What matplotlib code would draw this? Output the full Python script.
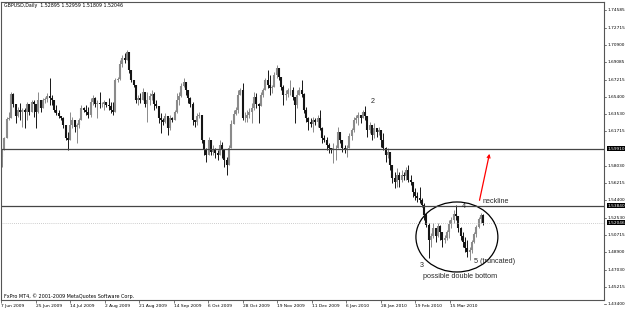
import numpy as np
import matplotlib.pyplot as plt
from matplotlib.patches import Ellipse

# GBPUSD daily bars, Jun 2009 - Mar 2010
highs = [1.5975, 1.6113, 1.6325, 1.6378, 1.6590, 1.6579, 1.6452, 1.6431, 1.6473, 1.6420,
         1.6420, 1.6484, 1.6452, 1.6505, 1.6505, 1.6452, 1.6590, 1.6473, 1.6526, 1.6537,
         1.6579, 1.6738, 1.6558, 1.6484, 1.6452, 1.6399, 1.6335, 1.6325, 1.6240, 1.6166,
         1.6378, 1.6325, 1.6240, 1.6261, 1.6314, 1.6452, 1.6431, 1.6452, 1.6431, 1.6526,
         1.6558, 1.6537, 1.6505, 1.6590, 1.6484, 1.6505, 1.6484, 1.6526, 1.6484, 1.6484,
         1.6738, 1.6749, 1.6929, 1.6982, 1.7003, 1.7035, 1.6982, 1.6823, 1.6696, 1.6664,
         1.6558, 1.6579, 1.6632, 1.6579, 1.6590, 1.6579, 1.6611, 1.6590, 1.6505, 1.6431,
         1.6367, 1.6314, 1.6367, 1.6293, 1.6346, 1.6325, 1.6399, 1.6579, 1.6590, 1.6685,
         1.6738, 1.6664, 1.6590, 1.6537, 1.6484, 1.6293, 1.6367, 1.6378, 1.6346, 1.6081,
         1.5996, 1.6113, 1.5996, 1.6028, 1.5996, 1.5975, 1.6081, 1.6060, 1.5943, 1.5901,
         1.6028, 1.6293, 1.6399, 1.6431, 1.6611, 1.6632, 1.6685, 1.6378, 1.6399, 1.6420,
         1.6473, 1.6590, 1.6579, 1.6473, 1.6590, 1.6632, 1.6738, 1.6823, 1.6770, 1.6664,
         1.6802, 1.6876, 1.6823, 1.6749, 1.6664, 1.6611, 1.6632, 1.6717, 1.6643, 1.6526,
         1.6611, 1.6643, 1.6717, 1.6579, 1.6431, 1.6325, 1.6314, 1.6325, 1.6314, 1.6346,
         1.6399, 1.6219, 1.6134, 1.6113, 1.6049, 1.5996, 1.6049, 1.6028, 1.6219, 1.6166,
         1.6081, 1.6028, 1.6028, 1.6155, 1.6208, 1.6325, 1.6346, 1.6378, 1.6346, 1.6399,
         1.6441, 1.6293, 1.6272, 1.6240, 1.6261, 1.6208, 1.6219, 1.6166, 1.6155, 1.6007,
         1.5996, 1.5922, 1.5795, 1.5742, 1.5784, 1.5742, 1.5763, 1.5742, 1.5795, 1.5816,
         1.5710, 1.5636, 1.5572, 1.5530, 1.5583, 1.5467, 1.5413, 1.5307, 1.5201, 1.5095,
         1.5201, 1.5148, 1.5201, 1.5180, 1.5106, 1.5074, 1.5127, 1.5233, 1.5265, 1.5339,
         1.5392, 1.5254, 1.5159, 1.5106, 1.5053, 1.5021, 1.4947, 1.5021, 1.5106, 1.5180,
         1.5265, 1.5307, 1.52959]

lows = [1.5795, 1.5975, 1.6219, 1.6293, 1.6431, 1.6431, 1.6261, 1.6325, 1.6293, 1.6219,
        1.6208, 1.6293, 1.6346, 1.6431, 1.6325, 1.6208, 1.6367, 1.6378, 1.6431, 1.6473,
        1.6484, 1.6452, 1.6452, 1.6378, 1.6346, 1.6314, 1.6293, 1.6208, 1.6081, 1.5975,
        1.6081, 1.6208, 1.6166, 1.6049, 1.6208, 1.6325, 1.6378, 1.6346, 1.6314, 1.6325,
        1.6452, 1.6431, 1.6314, 1.6420, 1.6431, 1.6399, 1.6431, 1.6399, 1.6367, 1.6346,
        1.6484, 1.6696, 1.6717, 1.6855, 1.6897, 1.6929, 1.6791, 1.6696, 1.6643, 1.6473,
        1.6452, 1.6473, 1.6505, 1.6431, 1.6272, 1.6452, 1.6505, 1.6399, 1.6420, 1.6261,
        1.6155, 1.6240, 1.6261, 1.6134, 1.6187, 1.6272, 1.6314, 1.6367, 1.6452, 1.6537,
        1.6643, 1.6558, 1.6473, 1.6431, 1.6240, 1.6219, 1.6240, 1.6314, 1.6049, 1.5922,
        1.5848, 1.5954, 1.5922, 1.5922, 1.5890, 1.5869, 1.5922, 1.5890, 1.5795, 1.5710,
        1.5901, 1.5996, 1.6261, 1.6346, 1.6367, 1.6579, 1.6293, 1.6272, 1.6272, 1.6314,
        1.6261, 1.6399, 1.6420, 1.6261, 1.6452, 1.6537, 1.6611, 1.6632, 1.6558, 1.6579,
        1.6643, 1.6738, 1.6717, 1.6611, 1.6452, 1.6505, 1.6537, 1.6558, 1.6505, 1.6261,
        1.6420, 1.6558, 1.6537, 1.6367, 1.6272, 1.6187, 1.6219, 1.6166, 1.6240, 1.6219,
        1.6187, 1.6049, 1.6060, 1.5975, 1.5943, 1.5943, 1.5837, 1.5869, 1.6007, 1.6049,
        1.5954, 1.5943, 1.5901, 1.6028, 1.6081, 1.6166, 1.6261, 1.6240, 1.6261, 1.6314,
        1.6293, 1.6113, 1.6155, 1.6081, 1.6102, 1.6113, 1.6134, 1.6007, 1.5975, 1.5848,
        1.5890, 1.5763, 1.5625, 1.5572, 1.5583, 1.5583, 1.5636, 1.5657, 1.5657, 1.5636,
        1.5604, 1.5477, 1.5445, 1.5424, 1.5413, 1.5371, 1.5233, 1.5159, 1.4830, 1.4947,
        1.5042, 1.5000, 1.5053, 1.5021, 1.4947, 1.4989, 1.5021, 1.5042, 1.5148, 1.5201,
        1.5233, 1.5106, 1.5021, 1.4947, 1.4894, 1.4841, 1.4809, 1.4883, 1.4989, 1.5053,
        1.5148, 1.5201, 1.51809]

closes = [1.5975, 1.6102, 1.6304, 1.6314, 1.6569, 1.6463, 1.6335, 1.6399, 1.6378, 1.6399,
          1.6378, 1.6463, 1.6378, 1.6484, 1.6463, 1.6378, 1.6505, 1.6420, 1.6505, 1.6516,
          1.6547, 1.6526, 1.6505, 1.6399, 1.6367, 1.6335, 1.6314, 1.6240, 1.6102, 1.6081,
          1.6240, 1.6293, 1.6219, 1.6240, 1.6293, 1.6420, 1.6399, 1.6378, 1.6346, 1.6484,
          1.6526, 1.6463, 1.6473, 1.6463, 1.6463, 1.6484, 1.6452, 1.6441, 1.6399, 1.6378,
          1.6717, 1.6728, 1.6887, 1.6950, 1.6929, 1.7014, 1.6823, 1.6717, 1.6664, 1.6505,
          1.6526, 1.6505, 1.6590, 1.6463, 1.6505, 1.6547, 1.6569, 1.6463, 1.6441, 1.6314,
          1.6293, 1.6272, 1.6335, 1.6208, 1.6314, 1.6293, 1.6378, 1.6505, 1.6547, 1.6653,
          1.6696, 1.6611, 1.6526, 1.6463, 1.6293, 1.6272, 1.6335, 1.6346, 1.6081, 1.5975,
          1.5922, 1.6081, 1.5954, 1.5975, 1.5943, 1.5922, 1.6028, 1.5975, 1.5869, 1.5816,
          1.5996, 1.6251, 1.6357, 1.6399, 1.6558, 1.6611, 1.6314, 1.6314, 1.6346, 1.6378,
          1.6420, 1.6537, 1.6463, 1.6441, 1.6558, 1.6611, 1.6717, 1.6664, 1.6632, 1.6643,
          1.6770, 1.6844, 1.6749, 1.6643, 1.6558, 1.6569, 1.6611, 1.6611, 1.6537, 1.6452,
          1.6558, 1.6611, 1.6569, 1.6399, 1.6314, 1.6272, 1.6251, 1.6293, 1.6272, 1.6314,
          1.6208, 1.6102, 1.6081, 1.6028, 1.5996, 1.5975, 1.5996, 1.5996, 1.6166, 1.6081,
          1.5996, 1.5975, 1.5996, 1.6124, 1.6187, 1.6293, 1.6314, 1.6346, 1.6314, 1.6378,
          1.6335, 1.6187, 1.6240, 1.6134, 1.6208, 1.6166, 1.6187, 1.6081, 1.5996, 1.5922,
          1.5954, 1.5816, 1.5678, 1.5636, 1.5710, 1.5657, 1.5710, 1.5699, 1.5763, 1.5657,
          1.5636, 1.5530, 1.5488, 1.5467, 1.5445, 1.5392, 1.5286, 1.5180, 1.5021, 1.5063,
          1.5148, 1.5063, 1.5169, 1.5106, 1.5021, 1.5042, 1.5106, 1.5191, 1.5233, 1.5297,
          1.5276, 1.5148, 1.5063, 1.5000, 1.4937, 1.4894, 1.4915, 1.5000, 1.5085, 1.5159,
          1.5244, 1.52895, 1.52046]
first_open = 1.5900

date_labels = ['7 Jun 2009', '25 Jun 2009', '14 Jul 2009', '2 Aug 2009', '21 Aug 2009',
               '14 Sep 2009', '6 Oct 2009', '28 Oct 2009', '19 Nov 2009', '11 Dec 2009',
               '6 Jan 2010', '28 Jan 2010', '19 Feb 2010', '15 Mar 2010']
price_ticks = [1.74585, 1.72715, 1.70900, 1.69085, 1.67215, 1.65400, 1.63530, 1.61715,
               1.58030, 1.56215, 1.54400, 1.52530, 1.50715, 1.48900, 1.47030, 1.45215, 1.43400]
levels = [1.59910, 1.53840]
bid = 1.52046

opens = [first_open] + closes[:-1]
n = len(closes)
x = np.arange(n)
o = np.array(opens)
c = np.array(closes)
up = c >= o
cols = np.where(up, '#8a8a8a', '#151515')

fig = plt.figure(figsize=(6.25, 3.14), dpi=100)
ax = fig.add_axes([1 / 625, 14 / 314, 603 / 625, 298 / 314])

ax.vlines(x, np.minimum(lows, np.minimum(o, c)), np.maximum(highs, np.maximum(o, c)),
          colors=cols, lw=0.7)
ax.vlines(x, np.minimum(o, c), np.maximum(o, c), colors=cols, lw=1.5)

for lv in levels:
    ax.axhline(lv, color='#454545', lw=0.9)
ax.axhline(bid, color='#bdbdbd', lw=0.6, ls=(0, (1, 1.5)))

ax.set_xlim(-0.44, 265.2)
ax.set_ylim(1.4385, 1.7544)

# annotations drawn on the chart
ann = dict(fontsize=5.2, family='Liberation Sans', color='#2a2a2a')
ax.text(163.4, 1.6484, '2', ha='center', va='center', **ann)
ax.text(185.0, 1.4756, '3', ha='center', va='center', **ann)
ax.text(203.5, 1.5371, '4', ha='center', va='center', **ann)
ax.text(207.9, 1.4788, '5 (truncated)', ha='left', va='center', **ann)
ax.text(211.5, 1.5428, 'neckline', ha='left', va='center', **ann)
ax.text(201.8, 1.4629, 'possible double bottom', ha='center', va='center', **ann)
ax.add_patch(Ellipse((200.4, 1.5053), 36.1, 0.0742, fill=False, ec='black', lw=0.9))
ax.annotate('', xy=(215.0, 1.5964), xytext=(210.1, 1.5413),
            arrowprops=dict(arrowstyle='->', color='red', lw=0.9, mutation_scale=5))

# price scale on the right
ax.set_yticks([])
ytr = ax.get_yaxis_transform()
for v in price_ticks:
    ax.plot([1.0, 1.004], [v, v], transform=ytr, color='#404040', lw=0.5, clip_on=False)
    ax.text(1.006, v, f'{v:.5f}', transform=ytr, fontsize=3.1, va='center', ha='left',
            clip_on=False)
for v in levels + [bid]:
    ax.text(1.006, v, f'{v:.5f}', transform=ytr, fontsize=3.1, va='center', ha='left',
            color='white', clip_on=False,
            bbox=dict(boxstyle='square,pad=0.12', fc='black', ec='none'))

# date scale
step = 15.2
ax.set_xticks([-0.44 + k * step for k in range(len(date_labels))])
ax.set_xticklabels(date_labels, fontsize=3.2, ha='left')
ax.tick_params(axis='x', length=2, width=0.5, pad=1.0, color='#404040')

for s in ax.spines.values():
    s.set_color('#555555')
    s.set_linewidth(0.8)

fig.text(4 / 625, 1 - 6 / 314, 'GBPUSD,Daily  1.52895 1.52959 1.51809 1.52046',
         fontsize=3.4, va='center', ha='left')
fig.text(4 / 625, 1 - 296 / 314, 'FxPro MT4, \u00a9 2001-2009 MetaQuotes Software Corp.',
         fontsize=3.5, va='center', ha='left')

fig.savefig('out.png', dpi=100)
